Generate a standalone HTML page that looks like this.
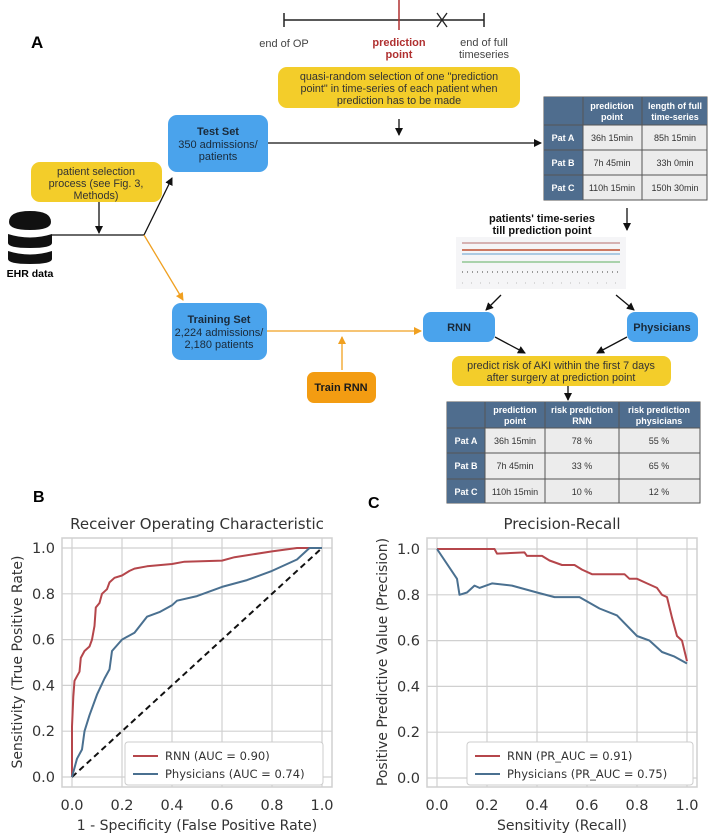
<!DOCTYPE html>
<html><head><meta charset="utf-8"><style>
body{margin:0;background:#fff;}
svg{display:block;font-family:"Liberation Sans",sans-serif;}
.dv{font-family:"DejaVu Sans","Liberation Sans",sans-serif;}
</style></head><body>
<svg id="fig" width="710" height="834" viewBox="0 0 710 834" xmlns="http://www.w3.org/2000/svg">
<defs>
<marker id="ak" markerWidth="8" markerHeight="8" refX="7" refY="4" orient="auto" markerUnits="userSpaceOnUse"><path d="M0,0 L8,4 L0,8 z" fill="#111"/></marker>
<marker id="ao" markerWidth="8" markerHeight="8" refX="7" refY="4" orient="auto" markerUnits="userSpaceOnUse"><path d="M0,0 L8,4 L0,8 z" fill="#f0a020"/></marker>
</defs>
<g>
<text x="31" y="48" font-size="17" font-weight="bold">A</text>
<g>
<line x1="284" y1="20" x2="484" y2="20" stroke="#222" stroke-width="1.5"/>
<line x1="284" y1="13" x2="284" y2="27" stroke="#222" stroke-width="1.5"/>
<line x1="484" y1="13" x2="484" y2="27" stroke="#222" stroke-width="1.5"/>
<line x1="399" y1="0" x2="399" y2="30" stroke="#b03030" stroke-width="1.5"/>
<path d="M437,13 L447,27 M447,13 L437,27" stroke="#222" stroke-width="1.3"/>
<text x="284" y="47" font-size="11" fill="#444" text-anchor="middle">end of OP</text>
<text x="399" y="46" font-size="11" fill="#b03030" font-weight="bold" text-anchor="middle">prediction</text>
<text x="399" y="58" font-size="11" fill="#b03030" font-weight="bold" text-anchor="middle">point</text>
<text x="484" y="46" font-size="11" fill="#444" text-anchor="middle">end of full</text>
<text x="484" y="58" font-size="11" fill="#444" text-anchor="middle">timeseries</text>
</g>
<rect x="278" y="67" width="242" height="41" rx="9" fill="#f3cd2a"/>
<text font-size="10.8" fill="#333" text-anchor="middle"><tspan x="399" y="80">quasi-random selection of one "prediction</tspan><tspan x="399" y="92">point" in time-series of each patient when</tspan><tspan x="399" y="104">prediction has to be made</tspan></text>
<line x1="399" y1="119" x2="399" y2="135" stroke="#111" stroke-width="1.3" marker-end="url(#ak)"/>
<rect x="168" y="115" width="100" height="57" rx="9" fill="#4aa3ec"/>
<text font-size="11" fill="#1a2a3a" text-anchor="middle"><tspan x="218" y="135" font-weight="bold">Test Set</tspan><tspan x="218" y="148">350 admissions/</tspan><tspan x="218" y="160">patients</tspan></text>
<line x1="268" y1="143" x2="541" y2="143" stroke="#111" stroke-width="1.3" marker-end="url(#ak)"/>
<g>
<rect x="544" y="97" width="163" height="103" fill="#ececec" stroke="#555"/>
<rect x="544" y="97" width="163" height="28" fill="#4f6d8e"/>
<rect x="544" y="97" width="39" height="103" fill="#4f6d8e"/>
<g stroke="#555" stroke-width="1"><line x1="583" y1="97" x2="583" y2="200"/><line x1="642" y1="97" x2="642" y2="200"/><line x1="544" y1="125" x2="707" y2="125"/><line x1="544" y1="150" x2="707" y2="150"/><line x1="544" y1="175" x2="707" y2="175"/></g>
<g font-size="9" fill="#fff" font-weight="bold" text-anchor="middle"><text x="612" y="109">prediction</text><text x="612" y="120">point</text><text x="675" y="109">length of full</text><text x="675" y="120">time-series</text><text x="563" y="141">Pat A</text><text x="563" y="166">Pat B</text><text x="563" y="191">Pat C</text></g>
<g font-size="9" fill="#333" text-anchor="middle"><text x="612" y="141">36h 15min</text><text x="675" y="141">85h 15min</text><text x="612" y="166">7h 45min</text><text x="675" y="166">33h 0min</text><text x="612" y="191">110h 15min</text><text x="675" y="191">150h 30min</text></g>
</g>
<rect x="31" y="162" width="131" height="40" rx="9" fill="#f3cd2a"/>
<text font-size="10.8" fill="#333" text-anchor="middle"><tspan x="96" y="175">patient selection</tspan><tspan x="96" y="187">process (see Fig. 3,</tspan><tspan x="96" y="199">Methods)</tspan></text>
<line x1="99" y1="202" x2="99" y2="233" stroke="#111" stroke-width="1.3" marker-end="url(#ak)"/>
<g fill="#111">
<path d="M9,222 Q9,211 30,211 Q51,211 51,222 Q51,230 30,230 Q9,230 9,222 z"/>
<path d="M8,234 Q30,241 52,234 L52,243 Q52,248 30,248 Q8,248 8,243 z"/>
<path d="M8,251 Q30,258 52,251 L52,259 Q52,264 30,264 Q8,264 8,259 z"/>
</g>
<text x="30" y="277" font-size="10.5" font-weight="bold" text-anchor="middle">EHR data</text>
<line x1="52" y1="235" x2="144" y2="235" stroke="#111" stroke-width="1.3"/>
<line x1="144" y1="235" x2="172" y2="178" stroke="#111" stroke-width="1.3" marker-end="url(#ak)"/>
<line x1="144" y1="235" x2="183" y2="300" stroke="#f0a020" stroke-width="1.3" marker-end="url(#ao)"/>
<text font-size="11" font-weight="bold" fill="#111" text-anchor="middle"><tspan x="542" y="222">patients' time-series</tspan><tspan x="542" y="234">till prediction point</tspan></text>
<line x1="627" y1="208" x2="627" y2="230" stroke="#111" stroke-width="1.3" marker-end="url(#ak)"/>
<g>
<rect x="456" y="237" width="170" height="52" fill="#f5f5f7"/>
<line x1="462" y1="243" x2="620" y2="243" stroke="#a04040" stroke-width="0.8"/>
<line x1="462" y1="250" x2="620" y2="250" stroke="#c05030" stroke-width="1.5"/>
<line x1="462" y1="254" x2="620" y2="254" stroke="#3080c0" stroke-width="0.8"/>
<line x1="462" y1="262" x2="620" y2="262" stroke="#60b060" stroke-width="1"/>
<line x1="462" y1="272" x2="620" y2="272" stroke="#999" stroke-width="2" stroke-dasharray="1 4"/>
<line x1="462" y1="283" x2="620" y2="283" stroke="#bbb" stroke-width="1" stroke-dasharray="1 8"/>
</g>
<line x1="501" y1="295" x2="486" y2="310" stroke="#111" stroke-width="1.3" marker-end="url(#ak)"/>
<line x1="616" y1="295" x2="634" y2="310" stroke="#111" stroke-width="1.3" marker-end="url(#ak)"/>
<rect x="172" y="303" width="95" height="57" rx="9" fill="#4aa3ec"/>
<text font-size="11" fill="#1a2a3a" text-anchor="middle"><tspan x="219" y="323" font-weight="bold">Training Set</tspan><tspan x="219" y="336">2,224 admissions/</tspan><tspan x="219" y="348">2,180 patients</tspan></text>
<line x1="267" y1="331" x2="421" y2="331" stroke="#f0a020" stroke-width="1.3" marker-end="url(#ao)"/>
<line x1="342" y1="370" x2="342" y2="337" stroke="#f0a020" stroke-width="1.3" marker-end="url(#ao)"/>
<rect x="307" y="372" width="69" height="31" rx="7" fill="#f39c12"/>
<text x="341" y="391" font-size="11" font-weight="bold" fill="#1a1a1a" text-anchor="middle">Train RNN</text>
<rect x="423" y="312" width="72" height="30" rx="8" fill="#4aa3ec"/>
<text x="459" y="331" font-size="11" font-weight="bold" fill="#1a2a3a" text-anchor="middle">RNN</text>
<rect x="627" y="312" width="71" height="30" rx="8" fill="#4aa3ec"/>
<text x="662" y="331" font-size="11" font-weight="bold" fill="#1a2a3a" text-anchor="middle">Physicians</text>
<line x1="495" y1="337" x2="525" y2="353" stroke="#111" stroke-width="1.3" marker-end="url(#ak)"/>
<line x1="627" y1="337" x2="597" y2="353" stroke="#111" stroke-width="1.3" marker-end="url(#ak)"/>
<rect x="452" y="356" width="219" height="30" rx="8" fill="#f3cd2a"/>
<text font-size="10.8" fill="#333" text-anchor="middle"><tspan x="561" y="369">predict risk of AKI within the first 7 days</tspan><tspan x="561" y="381">after surgery at prediction point</tspan></text>
<line x1="568" y1="386" x2="568" y2="400" stroke="#111" stroke-width="1.3" marker-end="url(#ak)"/>
<g>
<rect x="447" y="402" width="253" height="101" fill="#ececec" stroke="#555"/>
<rect x="447" y="402" width="253" height="26" fill="#4f6d8e"/>
<rect x="447" y="402" width="38" height="101" fill="#4f6d8e"/>
<g stroke="#555"><line x1="485" y1="402" x2="485" y2="503"/><line x1="545" y1="402" x2="545" y2="503"/><line x1="619" y1="402" x2="619" y2="503"/><line x1="447" y1="428" x2="700" y2="428"/><line x1="447" y1="453" x2="700" y2="453"/><line x1="447" y1="479" x2="700" y2="479"/></g>
<g font-size="9" fill="#fff" font-weight="bold" text-anchor="middle"><text x="515" y="413">prediction</text><text x="515" y="424">point</text><text x="582" y="413">risk prediction</text><text x="582" y="424">RNN</text><text x="659" y="413">risk prediction</text><text x="659" y="424">physicians</text><text x="466" y="444">Pat A</text><text x="466" y="469">Pat B</text><text x="466" y="495">Pat C</text></g>
<g font-size="9" fill="#333" text-anchor="middle"><text x="515" y="444">36h 15min</text><text x="582" y="444">78 %</text><text x="659" y="444">55 %</text><text x="515" y="469">7h 45min</text><text x="582" y="469">33 %</text><text x="659" y="469">65 %</text><text x="515" y="495">110h 15min</text><text x="582" y="495">10 %</text><text x="659" y="495">12 %</text></g>
</g>
</g>
<text x="33" y="502" font-size="16" font-weight="bold">B</text>
<text x="368" y="508" font-size="16" font-weight="bold">C</text>
<g id="charts" class="dv"></g>
</svg>
<script>
const ticks = [0, 0.2, 0.4, 0.6, 0.8, 1.0];
const tickLabels = ["0.0", "0.2", "0.4", "0.6", "0.8", "1.0"];
const rocRnnX = [0,0,0.005,0.01,0.02,0.03,0.035,0.05,0.07,0.08,0.09,0.095,0.11,0.12,0.14,0.15,0.17,0.2,0.23,0.25,0.3,0.4,0.45,0.6,0.65,0.8,0.9,1];
const rocRnnY = [0,0.22,0.35,0.42,0.44,0.46,0.52,0.55,0.57,0.6,0.66,0.74,0.76,0.8,0.82,0.85,0.87,0.88,0.9,0.91,0.92,0.93,0.94,0.945,0.96,0.985,1,1];
const rocPhysX = [0,0.02,0.04,0.05,0.07,0.1,0.13,0.15,0.16,0.2,0.25,0.3,0.35,0.4,0.42,0.5,0.6,0.7,0.8,0.9,0.95,1];
const rocPhysY = [0,0.08,0.12,0.2,0.27,0.36,0.43,0.47,0.55,0.6,0.63,0.7,0.72,0.75,0.77,0.79,0.83,0.86,0.9,0.95,1,1];
const prRnnX = [0,0.23,0.24,0.35,0.36,0.42,0.45,0.5,0.55,0.58,0.62,0.7,0.75,0.77,0.8,0.84,0.88,0.9,0.92,0.94,0.96,0.98,1];
const prRnnY = [1,1,0.98,0.985,0.97,0.97,0.95,0.93,0.93,0.91,0.89,0.89,0.89,0.87,0.87,0.85,0.83,0.8,0.79,0.7,0.62,0.6,0.51];
const prPhysX = [0,0.08,0.09,0.12,0.15,0.17,0.22,0.3,0.4,0.47,0.57,0.65,0.72,0.8,0.85,0.9,0.95,1];
const prPhysY = [1,0.87,0.8,0.81,0.84,0.83,0.85,0.84,0.81,0.79,0.79,0.74,0.71,0.62,0.6,0.55,0.53,0.5];
const legendRoc = ["RNN (AUC = 0.90)", "Physicians (AUC = 0.74)"];
const legendPr = ["RNN (PR_AUC = 0.91)", "Physicians (PR_AUC = 0.75)"];

const NS = "http://www.w3.org/2000/svg";
const root = document.getElementById("charts");
function mk(tag, attrs, parent, text) {
  const e = document.createElementNS(NS, tag);
  for (const k in attrs) e.setAttribute(k, attrs[k]);
  if (text !== undefined) e.textContent = text;
  parent.appendChild(e);
  return e;
}
function chart(cfg) {
  const g = mk("g", {}, root);
  
  
  const sx = v => cfg.x0 + v * 250;
  const sy = v => cfg.y0 - v * 229;
  const frame = mk("rect", {x: cfg.fx, y: 538, width: 270, height: 249, fill: "#fff", stroke: "#d0d0d0", "stroke-width": 1.5}, g);
  
  
  ticks.forEach((t, i) => {
    const gx = mk("line", {x1: sx(t), x2: sx(t), y1: 538, y2: 787, stroke: "#d0d0d0", "stroke-width": 1.2}, g);
    
    
    const gy = mk("line", {x1: cfg.fx, x2: cfg.fx + 270, y1: sy(t), y2: sy(t), stroke: "#d0d0d0", "stroke-width": 1.2}, g);
    
    
    const xl = mk("text", {x: sx(t), y: 810, "font-size": 14.5, fill: "#333", "text-anchor": "middle"}, g, tickLabels[i]);
    
    
    const yl = mk("text", {x: cfg.fx - 7, y: sy(t) + 5, "font-size": 14.5, fill: "#333", "text-anchor": "end"}, g, tickLabels[i]);
    
    
  });
  const title = mk("text", {x: cfg.fx + 135, y: 529, "font-size": 15, fill: "#333", "text-anchor": "middle"}, g, cfg.title);
  
  
  const xt = mk("text", {x: cfg.fx + 135, y: 830, "font-size": 14, fill: "#333", "text-anchor": "middle"}, g, cfg.xlabel);
  
  
  const yc = 662, yx = cfg.fx - 40;
  const yt = mk("text", {x: yx, y: yc, "font-size": 14, fill: "#333", "text-anchor": "middle", transform: `rotate(-90 ${yx} ${yc})`}, g, cfg.ylabel);
  
  
  if (cfg.diag) {
    const d = mk("line", {x1: sx(0), y1: sy(0), x2: sx(1), y2: sy(1), stroke: "#111", "stroke-width": 2, "stroke-dasharray": "6 4"}, g);
    
    
  }
  cfg.series.forEach(s => {
    const pts = s.xs.map((v, i) => sx(v).toFixed(1) + "," + sy(s.ys[i]).toFixed(1)).join(" ");
    const p = mk("polyline", {points: pts, fill: "none", stroke: s.color, "stroke-width": 2, "stroke-linejoin": "round"}, g);
    
    
  });
  const lg = mk("g", {}, g);
  
  
  mk("rect", {x: cfg.lx, y: 742, width: cfg.lw, height: 43, rx: 3, fill: "#fff", stroke: "#ccc"}, lg);
  cfg.legend.forEach((t, i) => {
    const yy = 756 + i * 18;
    const ln = mk("line", {x1: cfg.lx + 8, x2: cfg.lx + 33, y1: yy, y2: yy, stroke: cfg.series[i].color, "stroke-width": 2}, lg);
    
    
    const tx = mk("text", {x: cfg.lx + 40, y: yy + 4, "font-size": 11.5, fill: "#333"}, lg, t);
    
    
  });
}
chart({name: "roc-chart", fx: 62, x0: 72, y0: 777, title: "Receiver Operating Characteristic",
  xlabel: "1 - Specificity (False Positive Rate)", ylabel: "Sensitivity (True Positive Rate)", diag: true,
  lx: 125, lw: 198, legend: legendRoc,
  series: [{name: "roc-rnn-line", xs: rocRnnX, ys: rocRnnY, color: "#b5464b"},
           {name: "roc-physicians-line", xs: rocPhysX, ys: rocPhysY, color: "#4a7090"}]});
chart({name: "pr-chart", fx: 427, x0: 437, y0: 778, title: "Precision-Recall",
  xlabel: "Sensitivity (Recall)", ylabel: "Positive Predictive Value (Precision)", diag: false,
  lx: 467, lw: 226, legend: legendPr,
  series: [{name: "pr-rnn-line", xs: prRnnX, ys: prRnnY, color: "#b5464b"},
           {name: "pr-physicians-line", xs: prPhysX, ys: prPhysY, color: "#4a7090"}]});
</script>
</body></html>
